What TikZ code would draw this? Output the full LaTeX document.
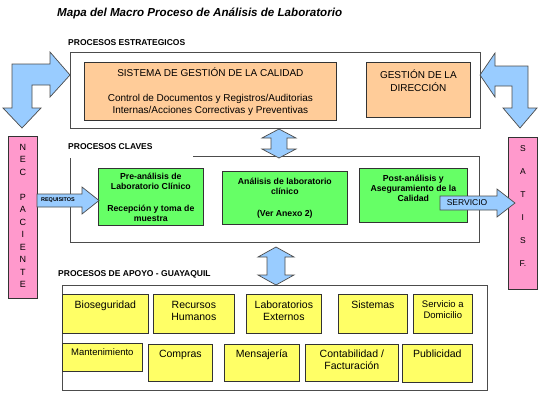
\documentclass[tikz,border=0pt]{standalone}
\usepackage{fontspec}
\setmainfont{Liberation Sans}
\usetikzlibrary{positioning}
\definecolor{peach}{RGB}{255,204,153}
\definecolor{lgreen}{RGB}{102,255,102}
\definecolor{lyellow}{RGB}{255,255,102}
\definecolor{lpink}{RGB}{255,153,204}
\definecolor{lblue}{RGB}{153,204,255}

\begin{document}
\begin{tikzpicture}[x=1pt, y=-1pt,
    frame/.style={draw=black!70, line width=0.9pt},
    box/.style={rectangle, draw=black!80, line width=0.7pt, anchor=north west,
                inner sep=0pt, align=center},
    obox/.style={box, fill=peach, font=\fontsize{10}{12}\selectfont},
    gbox/.style={box, fill=lgreen, font=\bfseries\fontsize{8.7}{10}\selectfont},
    ybox/.style={box, fill=lyellow},
    pbox/.style={box, fill=lpink},
    txt/.style={anchor=north, inner sep=0pt, align=center},
    ytxt/.style={txt, font=\fontsize{10.5}{12}\selectfont},
    sec/.style={anchor=west, inner sep=0pt, font=\bfseries\fontsize{8.5}{10}\selectfont},
    barrow/.style={draw=black!70, line width=0.7pt, fill=lblue, line join=miter}
  ]
  \useasboundingbox (0,0) rectangle (542,392);

  \node[anchor=west, inner sep=0pt, font=\bfseries\itshape\fontsize{11.6}{13}\selectfont] (title)
    at (57,13) {Mapa del Macro Proceso de Análisis de Laboratorio};

  % procesos estrategicos
  \node[sec] (estr) at (68,43) {PROCESOS ESTRATEGICOS};
  \draw[frame] (70,52) rectangle (480,128);
  \node[obox, minimum width=252pt, minimum height=58pt] (sgc) at (84,62)
    {SISTEMA DE GESTIÓN DE LA CALIDAD\\[13pt]Control de Documentos y Registros/Auditorias\\Internas/Acciones Correctivas y Preventivas};
  \node[obox, minimum width=104pt, minimum height=55pt] (dir) at (366,62) {};
  \node[txt, font=\fontsize{10}{12.5}\selectfont] (dir-t) at ([yshift=-8pt]dir.north) {GESTIÓN DE LA\\DIRECCIÓN};

  % procesos claves
  \node[sec] (clav) at (68,147) {PROCESOS CLAVES};
  \draw[frame] (193,156) -- (479,156) -- (479,242) -- (70,242) -- (70,158);
  \node[gbox, minimum width=105pt, minimum height=57pt] (pre) at (98,168)
    {Pre-análisis de\\Laboratorio Clínico\\[12pt]Recepción y toma de\\muestra};
  \node[gbox, minimum width=125pt, minimum height=53pt] (ana) at (222,171)
    {Análisis de laboratorio\\clínico\\[12pt](Ver Anexo 2)};
  \node[gbox, minimum width=108pt, minimum height=54pt] (post) at (359,168) {};
  \node[txt, font=\bfseries\fontsize{8.7}{10}\selectfont] (post-t) at ([yshift=-7pt]post.north)
    {Post-análisis y\\Aseguramiento de la\\Calidad};

  % procesos de apoyo
  \node[sec] (apoy) at (58,274) {PROCESOS DE APOYO - GUAYAQUIL};
  \draw[frame] (62,285) rectangle (487,390);
  \node[ybox, minimum width=86pt, minimum height=39pt] (bio)  at (62,294) {};
  \node[ybox, minimum width=81pt, minimum height=39pt] (rrhh) at (153,294) {};
  \node[ybox, minimum width=75pt, minimum height=39pt] (lab)  at (246,294) {};
  \node[ybox, minimum width=69pt, minimum height=39pt] (sist) at (338,294) {};
  \node[ybox, minimum width=59pt, minimum height=39pt] (dom)  at (413,294) {};
  \node[ybox, minimum width=80pt, minimum height=28pt] (mant) at (62,343) {};
  \node[ybox, minimum width=64pt, minimum height=37pt] (comp) at (148,344) {};
  \node[ybox, minimum width=75pt, minimum height=37pt] (mens) at (224,344) {};
  \node[ybox, minimum width=93pt, minimum height=37pt] (cont) at (305,344) {};
  \node[ybox, minimum width=70pt, minimum height=38pt] (publ) at (402,344) {};
  \node[ytxt] (bio-t)  at ([yshift=-7pt]bio.north)  {Bioseguridad};
  \node[ytxt] (rrhh-t) at ([yshift=-7pt]rrhh.north) {Recursos\\Humanos};
  \node[ytxt] (lab-t)  at ([yshift=-7pt]lab.north)  {Laboratorios\\Externos};
  \node[ytxt] (sist-t) at ([yshift=-7pt]sist.north) {Sistemas};
  \node[ytxt, font=\fontsize{9.5}{11}\selectfont] (dom-t) at ([yshift=-6pt]dom.north) {Servicio a\\Domicilio};
  \node[ytxt, font=\fontsize{9.5}{11}\selectfont] (mant-t) at ([yshift=-5pt]mant.north) {Mantenimiento};
  \node[ytxt] (comp-t) at ([yshift=-6pt]comp.north) {Compras};
  \node[ytxt] (mens-t) at ([yshift=-6pt]mens.north) {Mensajería};
  \node[ytxt] (cont-t) at ([yshift=-6pt]cont.north) {Contabilidad /\\Facturación};
  \node[ytxt] (publ-t) at ([yshift=-6pt]publ.north) {Publicidad};

  % cliente
  \node[pbox, minimum width=29pt, minimum height=162pt] (nec) at (8,136) {};
  \node[txt, font=\fontsize{9}{12.5}\selectfont] (nec-t) at ([yshift=-8pt]nec.north)
    {N\\E\\C\\[12.5pt]P\\A\\C\\I\\E\\N\\T\\E};
  \node[pbox, minimum width=29pt, minimum height=152pt] (satisf) at (508,137) {};
  \node[txt, font=\fontsize{8.5}{23}\selectfont] (satisf-t) at ([yshift=-8pt]satisf.north)
    {S\\A\\T\\I\\S\\F.};

  % flechas
  \draw[barrow] (70,75) -- (50,52) -- (50,64) -- (12,64) -- (12,108) -- (3,108) -- (22,128)
    -- (41,108) -- (32,108) -- (32,85) -- (50,85) -- (50,97) -- cycle;
  \draw[barrow] (480,75) -- (495,53) -- (495,66) -- (528,66) -- (528,108) -- (537,108) -- (520,128)
    -- (503,108) -- (512,108) -- (512,86) -- (495,86) -- (495,97) -- cycle;
  \draw[barrow] (279,129) -- (296,138) -- (287,138) -- (287,149) -- (296,149) -- (279,158)
    -- (262,149) -- (271,149) -- (271,138) -- (262,138) -- cycle;
  \draw[barrow] (276,247) -- (294,257) -- (285,257) -- (285,275) -- (294,275) -- (276,285)
    -- (258,275) -- (267,275) -- (267,257) -- (258,257) -- cycle;
  \draw[barrow] (37,194) -- (82,194) -- (82,187) -- (99,200.5) -- (82,214) -- (82,207) -- (37,207) -- cycle;
  \draw[barrow] (440,196) -- (497,196) -- (497,189) -- (515,203) -- (497,217) -- (497,210) -- (440,210) -- cycle;
  \node[inner sep=0pt, font=\bfseries\fontsize{5.5}{6}\selectfont] (req) at (58,200.5) {REQUISITOS};
  \node[inner sep=0pt, font=\fontsize{8.5}{10}\selectfont] (servicio) at (467,203) {SERVICIO};
\end{tikzpicture}
\end{document}
